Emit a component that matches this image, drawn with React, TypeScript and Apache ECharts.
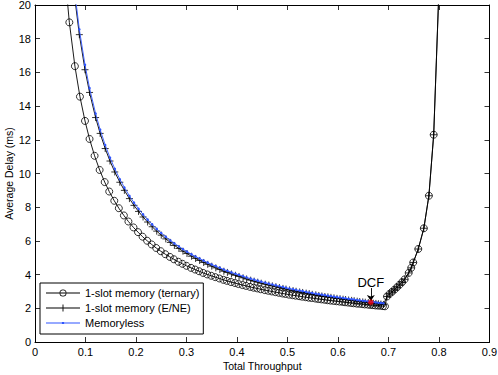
import React, { useEffect, useRef } from "react";
import * as echarts from "echarts";

// ---- Data ----
// 1-slot memory (ternary): left (decreasing) branch
const ternaryX = [0.057, 0.068, 0.079, 0.089, 0.099, 0.108, 0.118, 0.128, 0.138, 0.147, 0.157, 0.166, 0.176, 0.185, 0.195, 0.204, 0.213, 0.222, 0.231, 0.240, 0.249, 0.258, 0.267, 0.275, 0.284, 0.292, 0.300, 0.309, 0.317, 0.325, 0.333, 0.341, 0.349, 0.357, 0.365, 0.373, 0.380, 0.388, 0.396, 0.403, 0.411, 0.418, 0.426, 0.433, 0.440, 0.447, 0.455, 0.462, 0.469, 0.476, 0.483, 0.490, 0.496, 0.503, 0.510, 0.516, 0.523, 0.529, 0.536, 0.542, 0.548, 0.555, 0.561, 0.567, 0.573, 0.579, 0.585, 0.591, 0.597, 0.603, 0.609, 0.614, 0.620, 0.626, 0.631, 0.637, 0.642, 0.648, 0.653, 0.659, 0.664, 0.669, 0.674, 0.679, 0.684, 0.689, 0.693];
const ternaryY = [22.57, 18.97, 16.37, 14.56, 13.12, 12.05, 11.05, 10.21, 9.49, 8.93, 8.38, 7.94, 7.51, 7.15, 6.80, 6.52, 6.25, 6.01, 5.79, 5.58, 5.39, 5.21, 5.05, 4.91, 4.76, 4.64, 4.52, 4.40, 4.30, 4.20, 4.10, 4.01, 3.93, 3.85, 3.77, 3.69, 3.63, 3.56, 3.50, 3.44, 3.38, 3.33, 3.27, 3.22, 3.18, 3.13, 3.08, 3.04, 3.00, 2.96, 2.92, 2.88, 2.85, 2.81, 2.78, 2.75, 2.72, 2.69, 2.66, 2.63, 2.61, 2.58, 2.55, 2.53, 2.51, 2.48, 2.46, 2.44, 2.42, 2.40, 2.38, 2.36, 2.34, 2.32, 2.30, 2.28, 2.27, 2.25, 2.23, 2.22, 2.20, 2.19, 2.17, 2.16, 2.15, 2.13, 2.12];

// 1-slot memory (E/NE): left branch
const eneX = [0.076, 0.0878, 0.099, 0.108, 0.120, 0.129, 0.139, 0.1485, 0.158, 0.168, 0.177, 0.187, 0.196, 0.205, 0.214, 0.223, 0.232, 0.241, 0.250, 0.259, 0.268, 0.276, 0.285, 0.293, 0.301, 0.310, 0.318, 0.326, 0.334, 0.342, 0.350, 0.358, 0.366, 0.374, 0.381, 0.389, 0.397, 0.404, 0.412, 0.419, 0.427, 0.434, 0.441, 0.448, 0.456, 0.463, 0.470, 0.477, 0.484, 0.491, 0.497, 0.504, 0.511, 0.517, 0.524, 0.530, 0.537, 0.543, 0.549, 0.556, 0.562, 0.568, 0.574, 0.580, 0.586, 0.592, 0.598, 0.604, 0.610, 0.615, 0.621, 0.627, 0.632, 0.638, 0.643, 0.649, 0.654, 0.660, 0.665, 0.670, 0.675, 0.680, 0.685, 0.690];
const eneY = [21.08, 18.24, 16.16, 14.81, 13.32, 12.38, 11.48, 10.74, 10.09, 9.48, 9.00, 8.51, 8.11, 7.75, 7.42, 7.12, 6.84, 6.58, 6.34, 6.12, 5.91, 5.73, 5.55, 5.39, 5.25, 5.09, 4.96, 4.84, 4.72, 4.61, 4.50, 4.40, 4.30, 4.20, 4.13, 4.04, 3.96, 3.89, 3.81, 3.74, 3.67, 3.61, 3.55, 3.49, 3.43, 3.38, 3.33, 3.28, 3.23, 3.18, 3.14, 3.09, 3.05, 3.01, 2.97, 2.94, 2.90, 2.87, 2.83, 2.80, 2.76, 2.73, 2.70, 2.68, 2.65, 2.62, 2.59, 2.57, 2.54, 2.52, 2.49, 2.47, 2.45, 2.42, 2.40, 2.38, 2.36, 2.34, 2.32, 2.30, 2.29, 2.27, 2.25, 2.23];

// Memoryless
const memX = eneX;
const memY = [21.44, 18.55, 16.45, 15.07, 13.56, 12.60, 11.69, 10.94, 10.28, 9.66, 9.17, 8.67, 8.27, 7.91, 7.57, 7.26, 6.98, 6.71, 6.47, 6.24, 6.03, 5.85, 5.67, 5.51, 5.36, 5.20, 5.07, 4.95, 4.83, 4.71, 4.60, 4.50, 4.40, 4.30, 4.22, 4.13, 4.05, 3.98, 3.90, 3.83, 3.76, 3.70, 3.64, 3.58, 3.52, 3.46, 3.41, 3.36, 3.31, 3.26, 3.22, 3.17, 3.13, 3.09, 3.05, 3.02, 2.97, 2.94, 2.91, 2.87, 2.84, 2.81, 2.78, 2.75, 2.72, 2.69, 2.66, 2.64, 2.61, 2.59, 2.56, 2.54, 2.52, 2.49, 2.47, 2.45, 2.43, 2.41, 2.39, 2.37, 2.35, 2.33, 2.32, 2.30];

// Shared rising (unstable) branch
const riseX = [0.697, 0.702, 0.707, 0.712, 0.717, 0.722, 0.727, 0.732, 0.740, 0.745, 0.749, 0.759, 0.770, 0.780, 0.7895, 0.800];
const riseY = [2.70, 2.85, 2.98, 3.11, 3.25, 3.40, 3.55, 3.72, 4.10, 4.40, 4.72, 5.52, 6.75, 8.68, 12.30, 21.0];

// DCF operating point
const dcfPoint = [0.665, 2.36];
const dcfLabel = "DCF";

const seriesNames = ["1-slot memory (ternary)", "1-slot memory (E/NE)", "Memoryless"];
const xTicks = { min: 0, max: 0.9, interval: 0.1 };
const yTicks = { min: 0, max: 20, interval: 2 };

const zip = (xs: number[], ys: number[]) => xs.map((x, i) => [x, ys[i]]);

const FONT = "'Liberation Sans', Arial, Helvetica, sans-serif";
const PLUS = "path://M5,0 L5,10 M0,5 L10,5";
const STAR = "path://M5,0 L5,10 M0,5 L10,5 M1.5,1.5 L8.5,8.5 M8.5,1.5 L1.5,8.5";
const BLUE = "#2f55ff";

// legend icons drawn in a 34 x 14 box
const ANCHORS = "M0,0 L0.01,0 L0.01,0.01 L0,0.01 Z M33.99,13.99 L34,13.99 L34,14 L33.99,14 Z ";
const ICON_TERNARY =
  "path://" + ANCHORS +
  "M0,6.55 L13.5,6.55 L13.5,7.45 L0,7.45 Z M20.5,6.55 L34,6.55 L34,7.45 L20.5,7.45 Z " +
  "M14.3,6.55 L19.7,6.55 L19.7,7.45 L14.3,7.45 Z " +
  "M20.5,7 A3.5,3.5 0 1,0 13.5,7 A3.5,3.5 0 1,0 20.5,7 Z M19.7,7 A2.7,2.7 0 1,1 14.3,7 A2.7,2.7 0 1,1 19.7,7 Z";
const ICON_ENE =
  "path://" + ANCHORS +
  "M0,6.55 L34,6.55 L34,7.45 L0,7.45 Z M16.55,3.5 L17.45,3.5 L17.45,10.5 L16.55,10.5 Z";
const ICON_MEM =
  "path://" + ANCHORS +
  "M0,6.55 L34,6.55 L34,7.45 L0,7.45 Z M15.9,5.9 L18.1,5.9 L18.1,8.1 L15.9,8.1 Z";

export default function App() {
  const ref = useRef<HTMLDivElement>(null);
  useEffect(() => {
    if (!ref.current) return;
    const chart = echarts.init(ref.current, null, { renderer: "svg" });
    const axisCommon = {
      axisLine: { show: true, onZero: false, lineStyle: { color: "#000", width: 1 } },
      axisTick: { show: true, inside: true, length: 5, lineStyle: { color: "#000", width: 0.8 } },
      splitLine: { show: false },
    };
    const option: any = {
      animation: false,
      backgroundColor: "#fff",
      textStyle: { fontFamily: FONT },
      grid: { left: 35, right: 8.5, top: 5, bottom: 33, containLabel: false, outerBoundsMode: "none" },
      legend: {
        data: [
          { name: seriesNames[0], icon: ICON_TERNARY, itemStyle: { color: "#000", borderWidth: 0 } },
          { name: seriesNames[1], icon: ICON_ENE, itemStyle: { color: "#000", borderWidth: 0 } },
          { name: seriesNames[2], icon: ICON_MEM, itemStyle: { color: BLUE, borderWidth: 0 } },
        ],
        orient: "vertical",
        left: 40,
        top: 283,
        itemWidth: 34,
        itemHeight: 14,
        itemGap: 1,
        padding: [3, 4, 4, 6],
        borderColor: "#000",
        borderWidth: 1,
        borderRadius: 0,
        backgroundColor: "#fff",
        itemStyle: { borderWidth: 0 },
        textStyle: { fontSize: 11, color: "#000", fontFamily: FONT },
      },
      xAxis: [
        {
          type: "value",
          ...xTicks,
          ...axisCommon,
          name: "Total Throughput",
          nameLocation: "middle",
          nameGap: 18,
          nameMoveOverlap: false,
          nameTextStyle: { fontSize: 10.5, color: "#000", fontFamily: FONT },
          axisLabel: {
            color: "#000",
            fontSize: 11,
            fontFamily: FONT,
            margin: 4,
            formatter: (v: number) => (v === 0 ? "0" : v.toFixed(1)),
          },
        },
        {
          type: "value",
          position: "top",
          ...xTicks,
          ...axisCommon,
          axisLabel: { show: false },
        },
      ],
      yAxis: [
        {
          type: "value",
          ...yTicks,
          ...axisCommon,
          name: "Average Delay (ms)",
          nameLocation: "middle",
          nameGap: 21,
          nameMoveOverlap: false,
          nameTextStyle: { fontSize: 10.5, color: "#000", fontFamily: FONT },
          axisLabel: { color: "#000", fontSize: 11, fontFamily: FONT, margin: 4 },
        },
        {
          type: "value",
          position: "right",
          ...yTicks,
          ...axisCommon,
          axisLabel: { show: false },
        },
      ],
      series: [
        {
          name: seriesNames[0],
          type: "line",
          data: [...zip(ternaryX, ternaryY), ...zip(riseX, riseY)],
          symbol: "circle",
          symbolSize: 7,
          showAllSymbol: true,
          clip: true,
          lineStyle: { color: "#000", width: 0.9 },
          itemStyle: { color: "rgba(0,0,0,0)", borderColor: "#000", borderWidth: 0.8 },
          z: 2,
        },
        {
          name: seriesNames[1],
          type: "line",
          data: [...zip(eneX, eneY), ...zip(riseX, riseY)],
          symbol: PLUS,
          symbolSize: 7,
          showAllSymbol: true,
          clip: true,
          lineStyle: { color: "#000", width: 0.9 },
          itemStyle: { color: "rgba(0,0,0,0)", borderColor: "#000", borderWidth: 0.8 },
          z: 3,
        },
        {
          name: seriesNames[2],
          type: "line",
          data: zip(memX, memY),
          symbol: "circle",
          symbolSize: 2.5,
          showAllSymbol: true,
          clip: true,
          lineStyle: { color: BLUE, width: 0.9 },
          itemStyle: { color: BLUE, borderWidth: 0 },
          z: 4,
        },
        {
          name: "DCF",
          type: "scatter",
          data: [dcfPoint],
          symbol: STAR,
          symbolSize: 6,
          itemStyle: { color: "rgba(0,0,0,0)", borderColor: "#ff0000", borderWidth: 1.3 },
          z: 6,
          markLine: {
            silent: true,
            symbol: ["none", "arrow"],
            symbolSize: 6,
            label: { show: false },
            lineStyle: { color: "#000", width: 0.9, type: "solid" },
            data: [[{ coord: [dcfPoint[0], 3.2] }, { coord: [dcfPoint[0], 2.44] }]],
          },
          markPoint: {
            silent: true,
            data: [
              {
                coord: [dcfPoint[0], 3.52],
                symbol: "rect",
                symbolSize: 1,
                itemStyle: { color: "rgba(0,0,0,0)" },
                label: { show: true, position: "inside", formatter: dcfLabel, fontSize: 13, color: "#000", fontFamily: FONT },
              },
            ],
          },
        },
      ],
    };
    chart.setOption(option);
    return () => chart.dispose();
  }, []);
  return (
    <div
      ref={ref}
      style={{ position: "fixed", left: 0, top: 0, width: 498, height: 375, background: "#fff" }}
    />
  );
}
